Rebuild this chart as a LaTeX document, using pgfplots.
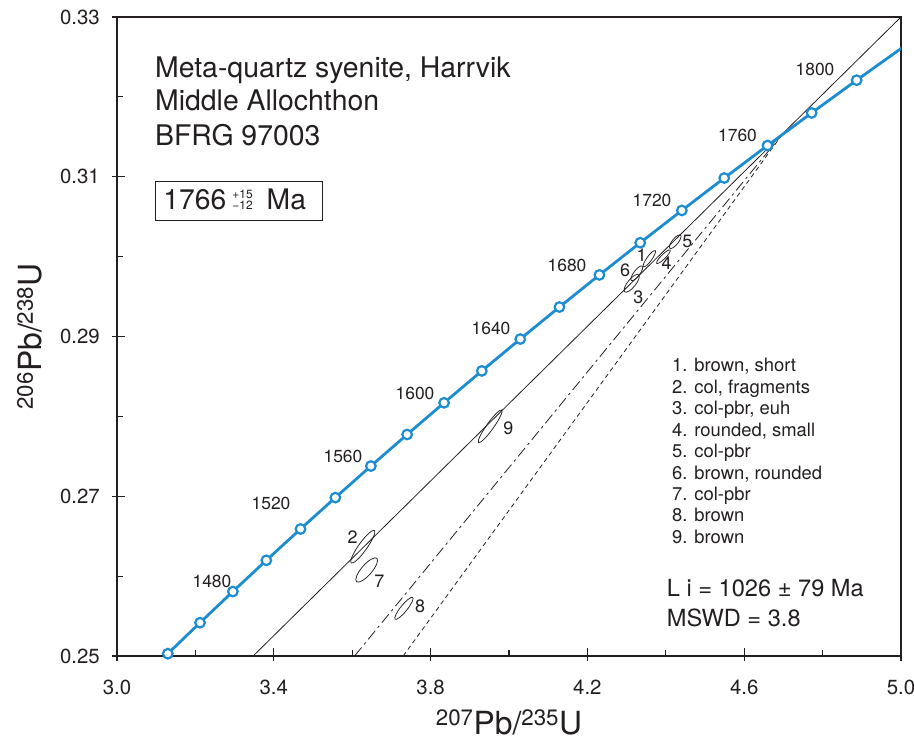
\documentclass[border=0pt]{standalone}
\usepackage{pgfplots}
\pgfplotsset{compat=1.18}
\usepackage{pgfplotstable}
\usepackage{fontspec}
\setmainfont{TeX Gyre Heros}
\definecolor{conc}{RGB}{28,141,208}
\definecolor{ink}{RGB}{35,31,32}

\pgfdeclareplotmark{errell}{%
  \pgfpathellipse{\pgfpointorigin}{\pgfpoint{\elra bp}{0bp}}{\pgfpoint{0bp}{\elrb bp}}%
  \pgfusepathqstroke}

% Concordia (age in Ma, 207Pb/235U, 206Pb/238U)
\pgfplotstableread{
age x y
1420 3.04907 0.24641
1440 3.12961 0.25029
1460 3.21176 0.25417
1480 3.29554 0.25807
1500 3.38099 0.26198
1520 3.46814 0.26590
1540 3.55702 0.26983
1560 3.64767 0.27378
1580 3.74012 0.27773
1600 3.83441 0.28170
1620 3.93057 0.28569
1640 4.02865 0.28968
1660 4.12868 0.29369
1680 4.23070 0.29771
1700 4.33475 0.30174
1720 4.44087 0.30578
1740 4.54910 0.30984
1760 4.65949 0.31391
1780 4.77207 0.31799
1800 4.88688 0.32209
1820 5.00399 0.32619
}\concdata

\pgfplotstableread{
age x y
1440 3.12961 0.25029
1460 3.21176 0.25417
1480 3.29554 0.25807
1500 3.38099 0.26198
1520 3.46814 0.26590
1540 3.55702 0.26983
1560 3.64767 0.27378
1580 3.74012 0.27773
1600 3.83441 0.28170
1620 3.93057 0.28569
1640 4.02865 0.28968
1660 4.12868 0.29369
1680 4.23070 0.29771
1700 4.33475 0.30174
1720 4.44087 0.30578
1740 4.54910 0.30984
1760 4.65949 0.31391
1780 4.77207 0.31799
1800 4.88688 0.32209
}\concmarks

% Error ellipses: centre, semi-axes (bp), orientation (deg)
\pgfplotstableread{
id x y ra rb ang
1 4.358 0.29974 10.0 2.5 54
2 3.627 0.26368 20.0 4.2 54.5
3 4.313 0.29666 11.0 4.0 51
4 4.394 0.29999 9.5 2.2 45
5 4.424 0.30187 8.5 3.0 51
6 4.326 0.29791 9.0 3.0 53
7 3.637 0.26077 15.5 5.2 49
8 3.732 0.25597 14.0 3.3 51
9 3.952 0.27876 20.0 3.5 54.5
}\ellipses

\begin{document}
\begin{tikzpicture}
\useasboundingbox (-117bp,-86bp) rectangle (797bp,656bp);
\begin{axis}[
  scale only axis, width=784bp, height=639bp,
  xmin=3, xmax=5, ymin=0.25, ymax=0.33,
  axis line style={ink, line width=1.3bp},
  xtick={3.0,3.4,3.8,4.2,4.6,5.0},
  xticklabels={3.0,3.4,3.8,4.2,4.6,5.0},
  minor xtick={3.2,3.6,4.0,4.4,4.8},
  ytick={0.25,0.27,0.29,0.31,0.33},
  yticklabels={0.25,0.27,0.29,0.31,0.33},
  minor ytick={0.26,0.28,0.30,0.32},
  xtick pos=bottom, ytick pos=left,
  tick align=inside, major tick length=8bp, minor tick length=6bp,
  tick style={ink, line width=1.2bp},
  extra x ticks={3.0,3.4,3.8,4.2,4.6,5.0}, extra x tick labels={},
  extra y ticks={0.25,0.27,0.29,0.31,0.33}, extra y tick labels={},
  extra tick style={tick align=outside, major tick length=5bp},
  tick label style={font=\fontsize{20.5}{24}\selectfont, text=ink},
  xticklabel style={anchor=north, inner sep=0pt, yshift=-24bp},
  yticklabel style={anchor=east, inner sep=0pt, xshift=-17bp},
  xlabel={\textsuperscript{207}Pb/\textsuperscript{235}U},
  ylabel={\textsuperscript{206}Pb/\textsuperscript{238}U},
  label style={font=\fontsize{32}{36}\selectfont, text=ink},
  xlabel style={at={(axis description cs:0.5,-0.1235)}, anchor=base},
  ylabel style={at={(axis description cs:-0.0957,0.5)}, anchor=base, rotate=0},
  clip=true,
]
% discordia lines
\addplot[ink, line width=0.8bp] coordinates {(3.3473,0.25) (5.0,0.33)};
\addplot[ink, line width=0.8bp, dash pattern=on 11bp off 4bp on 2.5bp off 4bp] coordinates {(3.606,0.25) (4.70,0.3155)};
\addplot[ink, line width=0.8bp, dash pattern=on 4.5bp off 3.5bp] coordinates {(3.730,0.25) (4.70,0.3155)};
% concordia
\addplot[conc, line width=2.8bp] table[x=x,y=y]{\concdata};
\addplot[conc, only marks, mark=*, mark size=4.8bp,
  mark options={draw=conc, fill=white, line width=2.2bp}] table[x=x,y=y]{\concmarks};
% error ellipses
\addplot[ink, only marks, mark=errell, scatter,
  mark options={solid, line width=0.75bp},
  visualization depends on={\thisrow{ra} \as \elra},
  visualization depends on={\thisrow{rb} \as \elrb},
  visualization depends on={\thisrow{ang} \as \elang},
  scatter/@pre marker code/.code={\pgfscope\pgfsetstrokecolor{ink}\pgftransformrotate{\elang}},
  scatter/@post marker code/.code={\endpgfscope},
] table[x=x,y=y]{\ellipses};

% age labels
\begin{scope}[every node/.style={font=\fontsize{17.5}{20}\selectfont, text=ink, inner sep=0pt}]
\node at (axis cs:3.2423,0.25939) {1480};
\node at (axis cs:3.3929,0.26916) {1520};
\node at (axis cs:3.5765,0.27504) {1560};
\node at (axis cs:3.7602,0.28293) {1600};
\node at (axis cs:3.9541,0.29106) {1640};
\node at (axis cs:4.1480,0.29895) {1680};
\node at (axis cs:4.3648,0.30709) {1720};
\node at (axis cs:4.5829,0.31523) {1760};
\node at (axis cs:4.7806,0.32349) {1800};
\end{scope}
% ellipse labels
\begin{scope}[every node/.style={font=\fontsize{18}{20}\selectfont, text=ink, inner sep=0pt}]
\node at (axis cs:4.3385,0.30020) {1};
\node at (axis cs:3.6013,0.26494) {2};
\node at (axis cs:4.3298,0.29491) {3};
\node at (axis cs:4.4023,0.29924) {4};
\node at (axis cs:4.4548,0.30187) {5};
\node at (axis cs:4.2959,0.29833) {6};
\node at (axis cs:3.6691,0.25930) {7};
\node at (axis cs:3.7730,0.25617) {8};
\node at (axis cs:3.9982,0.27851) {9};
\end{scope}
% title
\begin{scope}[every node/.style={font=\fontsize{28.5}{34}\selectfont, text=ink, inner sep=0pt, anchor=base west}]
\node at (axis cs:3.0969,0.32245) {Meta-quartz syenite, Harrvik};
\node at (axis cs:3.0969,0.31827) {Middle Allochthon};
\node at (axis cs:3.0969,0.31389) {BFRG 97003};
\end{scope}
% age box
\node[draw=ink, line width=1bp, text=ink, inner xsep=7.6bp, inner ysep=0pt,
  text width=151bp, align=left, minimum height=39bp,
  font=\fontsize{28.4}{32}\selectfont] at (axis cs:3.3112,0.30694)
  {1766\hspace{6bp}{\fontsize{12}{10.5}\selectfont\renewcommand\arraystretch{1}\begin{tabular}[b]{@{}l@{}}+15\\−12\end{tabular}}\hspace{14bp}Ma};
% legend list
\node[anchor=base west, inner sep=0pt, text=ink, font=\fontsize{18.5}{21.54}\selectfont]
  at (axis cs:4.4158,0.28559)
  {\renewcommand\arraystretch{1}\begin{tabular}[t]{@{}l@{}}
  1. brown, short\\
  2. col, fragments\\
  3. col-pbr, euh\\
  4. rounded, small\\
  5. col-pbr\\
  6. brown, rounded\\
  7. col-pbr\\
  8. brown\\
  9. brown
  \end{tabular}};
\node[anchor=base west, inner sep=0pt, text=ink, font=\fontsize{23.7}{30}\selectfont]
  at (axis cs:4.4023,0.25742)
  {\renewcommand\arraystretch{1}\begin{tabular}[t]{@{}l@{}}
  L i = 1026 ± 79 Ma\\
  MSWD = 3.8
  \end{tabular}};
\end{axis}
\end{tikzpicture}
\end{document}
